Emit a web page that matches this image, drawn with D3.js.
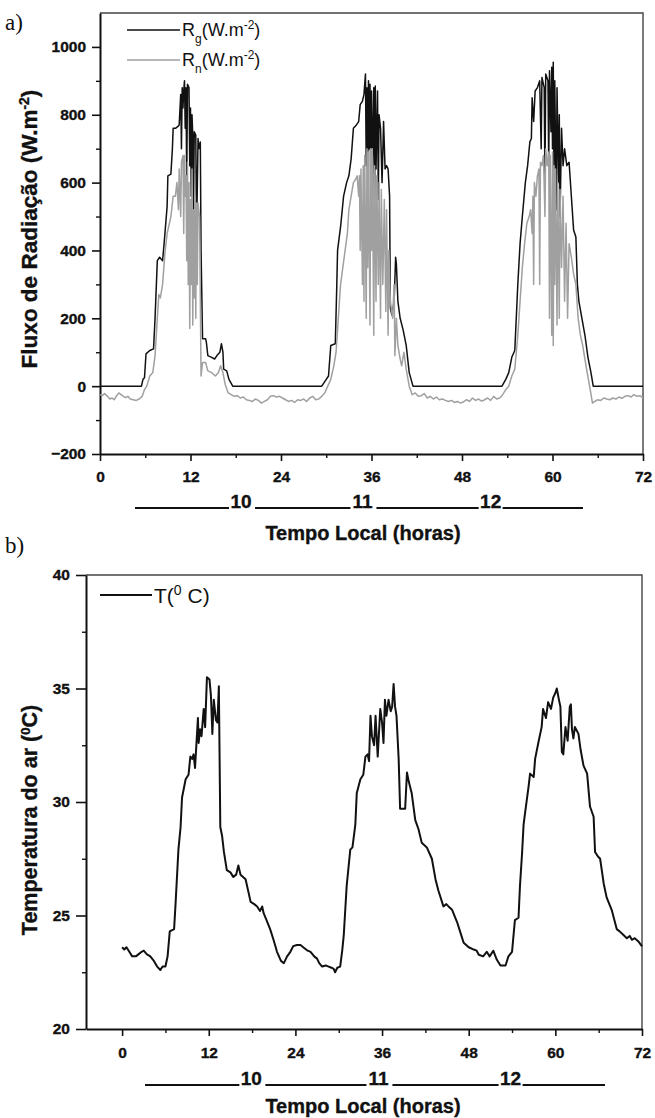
<!DOCTYPE html>
<html>
<head>
<meta charset="utf-8">
<script src="https://cdn.jsdelivr.net/npm/d3@7"></script>
<style>
  body { margin: 0; background: #fff; }
  text { font-family: Arial, "Liberation Sans", sans-serif; fill: #111; }
  .bold { font-weight: bold; stroke: #111; stroke-width: 0.35px; }
</style>
</head>
<body>
<svg id="chart"></svg>
<script>
var svgWidth = 655;
var svgHeight = 1118;

// ---- data (hour, value) ----
var rgSeries = [
  [0,0],[5.5,0],[5.7,20],[5.9,25],[6.1,95],[6.6,105],[7.1,110],[7.3,200],[7.6,370],[7.9,380],[8.3,370],[8.5,420],
  [8.9,530],[9.0,620],[9.4,625],[9.6,700],[9.7,760],[10.0,760],[10.3,765],[10.5,770],[10.7,860],[10.8,700],[10.9,880],
  [11.0,820],[11.1,870],[11.2,900],[11.3,760],[11.4,880],[11.5,600],[11.6,890],[11.8,880],[11.9,650],[12.0,820],
  [12.1,560],[12.2,800],[12.3,740],[12.4,520],[12.5,750],[12.7,740],[12.8,450],[12.9,580],[13.0,730],[13.1,700],
  [13.3,720],[13.4,400],[13.6,140],[14.0,140],[14.1,130],[14.3,90],[14.8,85],[15.2,80],[15.5,90],[15.9,100],
  [16.1,125],[16.3,100],[16.4,50],[16.8,45],[17.1,20],[17.6,0],
  [29.4,0],[30.0,20],[30.3,30],[30.6,120],[31.2,125],[31.4,300],[31.5,400],[31.9,470],[32.3,560],[32.7,600],
  [33.0,620],[33.3,670],[33.6,760],[34.0,770],[34.3,780],[34.5,830],[34.8,840],[35.0,860],[35.2,920],[35.3,650],
  [35.4,880],[35.5,600],[35.6,900],[35.7,700],[35.8,890],[35.9,560],[36.0,870],[36.1,620],[36.3,880],[36.4,500],
  [36.5,885],[36.6,640],[36.8,870],[36.9,550],[37.0,800],[37.2,760],[37.4,600],[37.6,780],[37.8,640],[38.0,650],
  [38.2,640],[38.4,560],[38.5,230],[38.7,210],[39.0,250],[39.2,380],[39.3,360],[39.5,250],[39.8,200],[40.2,165],
  [40.6,120],[41.0,40],[41.5,0],
  [53.3,0],[53.8,20],[54.2,40],[54.6,85],[55.0,105],[55.4,300],[55.7,420],[56.0,500],[56.4,600],[56.7,650],
  [57.0,720],[57.2,730],[57.3,850],[57.5,780],[57.7,870],[58.0,880],[58.3,900],[58.5,700],[58.6,910],[58.9,880],
  [59.0,600],[59.1,920],[59.4,900],[59.5,650],[59.6,930],[59.8,750],[59.9,940],[60.0,700],[60.1,955],[60.2,600],
  [60.3,900],[60.5,520],[60.6,880],[60.8,600],[60.9,800],[61.0,500],[61.2,760],[61.4,650],[61.6,700],[61.9,650],
  [62.2,660],[62.5,560],[62.8,460],[63.1,440],[63.3,300],[63.5,250],[63.9,200],[64.3,150],[64.7,85],[65.1,40],
  [65.4,0],[72,0]
];

var rnSeries = [
  [0,-25],[0.3,-28],[0.6,-22],[1.0,-30],[1.3,-38],[1.6,-35],[1.9,-40],[2.2,-28],[2.5,-20],[2.8,-25],[3.1,-30],
  [3.4,-34],[3.7,-30],[4.0,-38],[4.4,-40],[4.8,-42],[5.2,-38],[5.6,-30],[5.9,-10],[6.2,0],[6.6,30],[7.0,40],
  [7.3,90],[7.6,200],[7.8,270],[8.0,260],[8.3,300],[8.6,390],[8.9,450],[9.1,470],[9.4,500],[9.7,560],[10.0,560],
  [10.2,600],[10.4,520],[10.5,640],[10.7,500],[10.8,660],[11.0,680],[11.1,450],[11.2,680],[11.3,560],[11.4,620],
  [11.5,370],[11.6,660],[11.7,300],[11.8,600],[11.9,170],[12.0,550],[12.1,300],[12.2,640],[12.3,180],[12.4,520],
  [12.5,260],[12.6,560],[12.7,200],[12.8,540],[12.9,300],[13.0,540],[13.2,500],[13.4,30],[13.6,70],[14.0,70],
  [14.3,45],[14.8,40],[15.3,30],[15.7,40],[16.0,60],[16.3,40],[16.6,5],[17.0,-20],[17.4,-25],[17.8,-30],[18.2,-28],
  [18.6,-35],[19.0,-32],[19.4,-40],[19.8,-42],[20.2,-45],[20.6,-38],[21.0,-42],[21.4,-50],[21.8,-45],[22.2,-40],
  [22.6,-30],[23.0,-28],[23.4,-32],[23.8,-30],[24.2,-35],[24.6,-40],[25.0,-45],[25.4,-42],[25.8,-48],[26.2,-40],
  [26.6,-42],[27.0,-38],[27.4,-45],[27.8,-35],[28.2,-30],[28.6,-40],[29.0,-38],[29.4,-30],[29.8,-20],[30.2,0],
  [30.6,20],[31.0,60],[31.3,100],[31.6,200],[31.9,300],[32.2,350],[32.5,400],[32.8,450],[33.0,520],[33.3,560],
  [33.6,600],[33.9,610],[34.1,620],[34.3,560],[34.4,620],[34.5,400],[34.6,640],[34.8,300],[34.9,650],[35.0,250],
  [35.1,680],[35.3,200],[35.4,700],[35.5,350],[35.6,690],[35.8,180],[35.9,700],[36.0,400],[36.1,700],[36.3,150],
  [36.4,650],[36.6,250],[36.7,620],[36.9,300],[37.0,600],[37.2,200],[37.3,580],[37.5,300],[37.7,550],[37.9,220],
  [38.0,520],[38.2,150],[38.3,400],[38.5,250],[38.8,200],[39.0,300],[39.1,90],[39.3,200],[39.5,120],[39.8,80],
  [40.0,60],[40.3,100],[40.6,50],[41.0,0],[41.4,-25],[41.8,-20],[42.2,-30],[42.6,-28],[43.0,-22],[43.4,-35],
  [43.8,-30],[44.2,-38],[44.6,-32],[45.0,-40],[45.4,-38],[45.8,-42],[46.2,-45],[46.6,-42],[47.0,-48],[47.4,-45],
  [47.8,-50],[48.2,-46],[48.6,-40],[49.0,-45],[49.4,-35],[49.8,-42],[50.2,-38],[50.6,-44],[51.0,-40],[51.4,-35],
  [51.8,-42],[52.2,-30],[52.6,-38],[53.0,-35],[53.4,-25],[53.8,-10],[54.2,0],[54.6,30],[55.0,50],[55.4,150],
  [55.7,250],[56.0,350],[56.3,420],[56.6,480],[56.9,500],[57.1,520],[57.3,450],[57.4,560],[57.5,300],[57.6,600],
  [57.8,560],[58.0,620],[58.2,640],[58.3,300],[58.4,660],[58.6,650],[58.8,680],[59.0,500],[59.1,700],[59.3,650],
  [59.5,690],[59.6,200],[59.7,680],[59.9,150],[60.0,690],[60.1,120],[60.2,650],[60.3,300],[60.4,640],[60.6,180],
  [60.7,600],[60.9,200],[61.0,580],[61.2,350],[61.4,560],[61.6,250],[61.8,480],[62.0,200],[62.2,420],[62.5,380],
  [62.8,330],[63.1,300],[63.4,200],[63.7,150],[64.0,120],[64.3,80],[64.6,40],[65.0,-10],[65.3,-50],[65.6,-45],
  [66.0,-40],[66.4,-42],[66.8,-35],[67.2,-38],[67.6,-40],[68.0,-35],[68.4,-38],[68.8,-32],[69.2,-36],[69.6,-30],
  [70.0,-28],[70.4,-32],[70.8,-25],[71.2,-30],[71.6,-28],[72.0,-35]
];

var tempSeries = [
  [0,23.6],[0.3,23.5],[0.6,23.6],[1.0,23.4],[1.4,23.2],[1.9,23.2],[2.3,23.3],[2.7,23.4],[3.0,23.45],[3.4,23.3],
  [3.9,23.2],[4.4,23.0],[4.85,22.75],[5.3,22.6],[5.6,22.75],[6.0,22.75],[6.3,23.2],[6.6,24.3],[7.2,24.4],[7.4,25.5],
  [7.8,27.9],[8.1,28.9],[8.3,30.2],[8.8,31.0],[9.2,31.2],[9.45,32.0],[9.7,31.9],[9.9,32.1],[10.1,31.5],[10.3,32.6],
  [10.5,33.7],[10.6,32.6],[10.8,33.2],[11.0,32.9],[11.3,34.1],[11.5,33.3],[11.75,35.5],[12.1,35.4],[12.3,34.7],
  [12.5,33.0],[12.7,34.5],[13.0,33.6],[13.2,33.5],[13.4,35.1],[13.6,28.9],[13.85,28.5],[14.1,27.8],[14.5,27.0],
  [15.0,26.9],[15.4,26.7],[15.8,26.8],[16.1,27.2],[16.4,26.8],[17.1,26.6],[17.8,25.6],[18.3,25.5],[18.7,25.4],
  [19.1,25.2],[19.4,25.4],[19.6,25.1],[20.0,24.8],[20.5,24.4],[21.0,23.9],[21.45,23.4],[22.0,23.0],[22.4,22.9],
  [22.85,23.2],[23.3,23.4],[23.7,23.65],[24.2,23.7],[24.7,23.7],[25.3,23.55],[25.7,23.45],[26.1,23.4],[26.6,23.2],
  [27.0,23.1],[27.3,22.9],[27.7,22.75],[28.2,22.8],[28.6,22.75],[29.0,22.7],[29.3,22.65],[29.5,22.5],[29.8,22.7],
  [30.2,22.75],[30.5,23.5],[30.7,24.15],[31.1,26.3],[31.6,27.9],[31.9,28.0],[32.3,29.0],[32.5,30.4],[33.0,31.0],
  [33.4,31.2],[33.7,32.0],[34.0,32.1],[34.2,31.8],[34.4,33.8],[34.6,32.9],[34.9,32.5],[35.1,33.8],[35.4,32.0],
  [35.75,34.1],[36.0,33.5],[36.2,32.6],[36.4,34.5],[36.6,33.8],[36.9,34.5],[37.2,34.0],[37.4,34.2],[37.6,35.2],
  [37.8,34.2],[38.0,33.8],[38.3,31.9],[38.5,29.7],[39.2,29.7],[39.45,31.3],[39.7,30.9],[40.1,30.4],[40.6,29.2],
  [41.05,28.8],[41.5,28.2],[42.2,28.0],[42.9,27.5],[43.4,26.6],[43.8,26.1],[44.5,25.4],[44.9,25.5],[45.2,25.4],
  [45.7,25.25],[46.4,24.7],[46.9,24.2],[47.3,23.8],[48.0,23.6],[48.7,23.5],[49.1,23.45],[49.4,23.27],[50.0,23.2],
  [50.5,23.4],[50.9,23.2],[51.4,23.45],[51.9,23.05],[52.4,22.8],[53.1,22.8],[53.5,23.2],[54.0,23.4],[54.4,24.8],
  [54.9,24.9],[55.1,26.3],[55.4,27.8],[55.6,29.0],[55.8,29.5],[56.3,30.7],[56.5,31.25],[57.0,31.1],[57.2,31.9],
  [57.7,32.7],[58.1,33.3],[58.3,34.1],[58.7,33.7],[59.0,34.4],[59.4,34.1],[59.7,34.6],[60.0,34.8],[60.2,35.0],
  [60.5,34.5],[60.7,34.2],[60.9,32.2],[61.1,32.1],[61.4,33.3],[61.7,32.7],[62.0,34.2],[62.15,34.3],[62.3,33.2],
  [62.5,32.8],[62.7,33.3],[63.2,33.0],[63.5,32.3],[63.9,31.6],[64.4,31.25],[64.8,29.8],[65.3,29.35],[65.5,27.8],
  [65.9,27.6],[66.2,27.5],[66.7,26.4],[67.1,25.8],[67.8,25.25],[68.5,24.4],[68.9,24.3],[69.4,24.15],[69.9,24.0],
  [70.3,24.1],[70.6,23.93],[71.0,24.0],[71.5,23.86],[72,23.64]
];

var hourTicks = [0, 12, 24, 36, 48, 60, 72];
var hourMinorTicks = [6, 18, 30, 42, 54, 66];
var radTicks = [-200, 0, 200, 400, 600, 800, 1000];
var radMinorTicks = [-100, 100, 300, 500, 700, 900];
var tempTicks = [20, 25, 30, 35, 40];
var tempMinorTicks = [22.5, 27.5, 32.5, 37.5];
var dayLabels = ["10", "11", "12"];

var svg = d3.select("#chart")
  .attr("width", svgWidth)
  .attr("height", svgHeight);

function styleTickText(sel) {
  sel.selectAll(".tick text")
    .attr("fill", "#111")
    .style("font-family", "Arial, 'Liberation Sans', sans-serif")
    .style("font-weight", "bold")
    .style("font-size", "15.5px")
    .style("stroke", "#111")
    .style("stroke-width", "0.35px");
}

function drawAxes(x, y, cfg) {
  var g = svg.append("g");
  var x0 = x.range()[0], x1 = x.range()[1];
  var y0 = y.range()[0], y1 = y.range()[1];

  // frame: top and right
  g.append("path")
    .attr("d", "M" + x0 + "," + y1 + "H" + x1 + "V" + y0)
    .attr("fill", "none").attr("stroke", "#444").attr("stroke-width", 1.4);

  var bottom = g.append("g").attr("transform", "translate(0," + y0 + ")")
    .call(d3.axisBottom(x).tickValues(hourTicks).tickSize(7).tickSizeOuter(0).tickFormat(d3.format("d")));
  bottom.select(".domain").attr("stroke", "#111").attr("stroke-width", 2);
  bottom.selectAll(".tick line").attr("stroke", "#111").attr("stroke-width", 1.6);
  styleTickText(bottom);
  bottom.selectAll(".tick text").attr("y", cfg.xLabelY).attr("dy", null);

  var bottomMinor = g.append("g").attr("transform", "translate(0," + y0 + ")")
    .call(d3.axisBottom(x).tickValues(hourMinorTicks).tickSize(4).tickFormat(""));
  bottomMinor.select(".domain").remove();
  bottomMinor.selectAll(".tick line").attr("stroke", "#111").attr("stroke-width", 1.4);

  var left = g.append("g").attr("transform", "translate(" + x0 + ",0)")
    .call(d3.axisLeft(y).tickValues(cfg.yTicks).tickSize(cfg.yTickSize).tickSizeOuter(0)
      .tickPadding(cfg.yPad).tickFormat(d3.format("d")));
  left.select(".domain").attr("stroke", "#111").attr("stroke-width", 2);
  left.selectAll(".tick line").attr("stroke", "#111").attr("stroke-width", 1.6);
  styleTickText(left);

  var leftMinor = g.append("g").attr("transform", "translate(" + x0 + ",0)")
    .call(d3.axisLeft(y).tickValues(cfg.yMinor).tickSize(4).tickFormat(""));
  leftMinor.select(".domain").remove();
  leftMinor.selectAll(".tick line").attr("stroke", "#111").attr("stroke-width", 1.4);

  // day row: ____10 ____11 ____12 ____
  var rowY = cfg.dayY;
  var centers = cfg.dayHours.map(function(h) { return x(h); });
  var half = 12;
  var segs = [[cfg.dayStart, centers[0] - half]];
  for (var i = 0; i < centers.length - 1; i++) segs.push([centers[i] + half + 2, centers[i + 1] - half]);
  segs.push([centers[centers.length - 1] + half, cfg.dayEnd]);
  g.selectAll(".dayline").data(segs).enter().append("line")
    .attr("x1", function(d) { return d[0]; }).attr("x2", function(d) { return d[1]; })
    .attr("y1", rowY).attr("y2", rowY)
    .attr("stroke", "#111").attr("stroke-width", 1.8);
  g.selectAll(".daylabel").data(dayLabels).enter().append("text")
    .attr("class", "bold")
    .attr("x", function(d, i) { return centers[i]; })
    .attr("y", rowY)
    .attr("text-anchor", "middle")
    .style("font-size", "19px")
    .text(function(d) { return d; });

  g.append("text").attr("class", "bold")
    .attr("x", 363).attr("y", cfg.titleY)
    .attr("text-anchor", "middle").style("font-size", "20px")
    .text("Tempo Local (horas)");
}

// ---------------- panel a ----------------
var xA = d3.scaleLinear().domain([0, 72]).range([100, 643]);
var yA = d3.scaleLinear().domain([-200, 1100]).range([454, 13]);

drawAxes(xA, yA, {
  yTicks: radTicks, yMinor: radMinorTicks, yTickSize: 8, yPad: 6,
  xLabelY: 28, dayY: 508, dayHours: [18.7, 34.8, 51.8], dayStart: 135, dayEnd: 583, titleY: 540
});

var lineA = d3.line().x(function(d) { return xA(d[0]); }).y(function(d) { return yA(d[1]); });

svg.append("path").datum(rgSeries).attr("d", lineA)
  .attr("fill", "none").attr("stroke", "#111").attr("stroke-width", 1.5).attr("stroke-linejoin", "round");
svg.append("path").datum(rnSeries).attr("d", lineA)
  .attr("fill", "none").attr("stroke", "#a0a0a0").attr("stroke-width", 1.5).attr("stroke-linejoin", "round");

// legend a
var legA = svg.append("g");
[["g", "#111", 30], ["n", "#a0a0a0", 60]].forEach(function(it) {
  legA.append("line").attr("x1", 127).attr("x2", 180).attr("y1", it[2]).attr("y2", it[2])
    .attr("stroke", it[1]).attr("stroke-width", 1.5);
  var t = legA.append("text").attr("x", 182).attr("y", it[2] + 6).style("font-size", "18px");
  t.append("tspan").text("R");
  t.append("tspan").attr("baseline-shift", "sub").style("font-size", "12px").text(it[0]);
  t.append("tspan").text("(W.m");
  t.append("tspan").attr("baseline-shift", "super").style("font-size", "12px").text("-2");
  t.append("tspan").text(")");
});

var titleA = svg.append("text").attr("class", "bold")
  .attr("transform", "translate(37,229) rotate(-90)")
  .attr("text-anchor", "middle").style("font-size", "22.5px");
titleA.append("tspan").text("Fluxo de Radiação (W.m");
titleA.append("tspan").attr("baseline-shift", "super").style("font-size", "14px").text("-2");
titleA.append("tspan").text(")");

svg.append("text").attr("x", 5).attr("y", 30)
  .style("font-family", "'Liberation Serif', 'Times New Roman', serif").style("font-size", "23px")
  .text("a)");

// ---------------- panel b ----------------
var xB = d3.scaleLinear().domain([-5, 72]).range([86, 642]);
var yB = d3.scaleLinear().domain([20, 40]).range([1029, 575]);

drawAxes(xB, yB, {
  yTicks: tempTicks, yMinor: tempMinorTicks, yTickSize: 10, yPad: 6,
  xLabelY: 29, dayY: 1085, dayHours: [17.9, 35.5, 53.8], dayStart: 145, dayEnd: 605, titleY: 1113
});

var lineB = d3.line().x(function(d) { return xB(d[0]); }).y(function(d) { return yB(d[1]); });
svg.append("path").datum(tempSeries).attr("d", lineB)
  .attr("fill", "none").attr("stroke", "#111").attr("stroke-width", 2).attr("stroke-linejoin", "round");

// legend b
svg.append("line").attr("x1", 100).attr("x2", 152).attr("y1", 595).attr("y2", 595)
  .attr("stroke", "#111").attr("stroke-width", 2);
var legB = svg.append("text").attr("x", 154).attr("y", 603).style("font-size", "21px");
legB.append("tspan").text("T(");
legB.append("tspan").attr("baseline-shift", "super").style("font-size", "14px").text("0");
legB.append("tspan").text(" C)");

var titleB = svg.append("text").attr("class", "bold")
  .attr("transform", "translate(37,820) rotate(-90)")
  .attr("text-anchor", "middle").style("font-size", "21.5px");
titleB.append("tspan").text("Temperatura do ar (");
titleB.append("tspan").attr("baseline-shift", "super").style("font-size", "13px").text("0");
titleB.append("tspan").text("C)");

svg.append("text").attr("x", 5).attr("y", 553)
  .style("font-family", "'Liberation Serif', 'Times New Roman', serif").style("font-size", "23px")
  .text("b)");
</script>
</body>
</html>
